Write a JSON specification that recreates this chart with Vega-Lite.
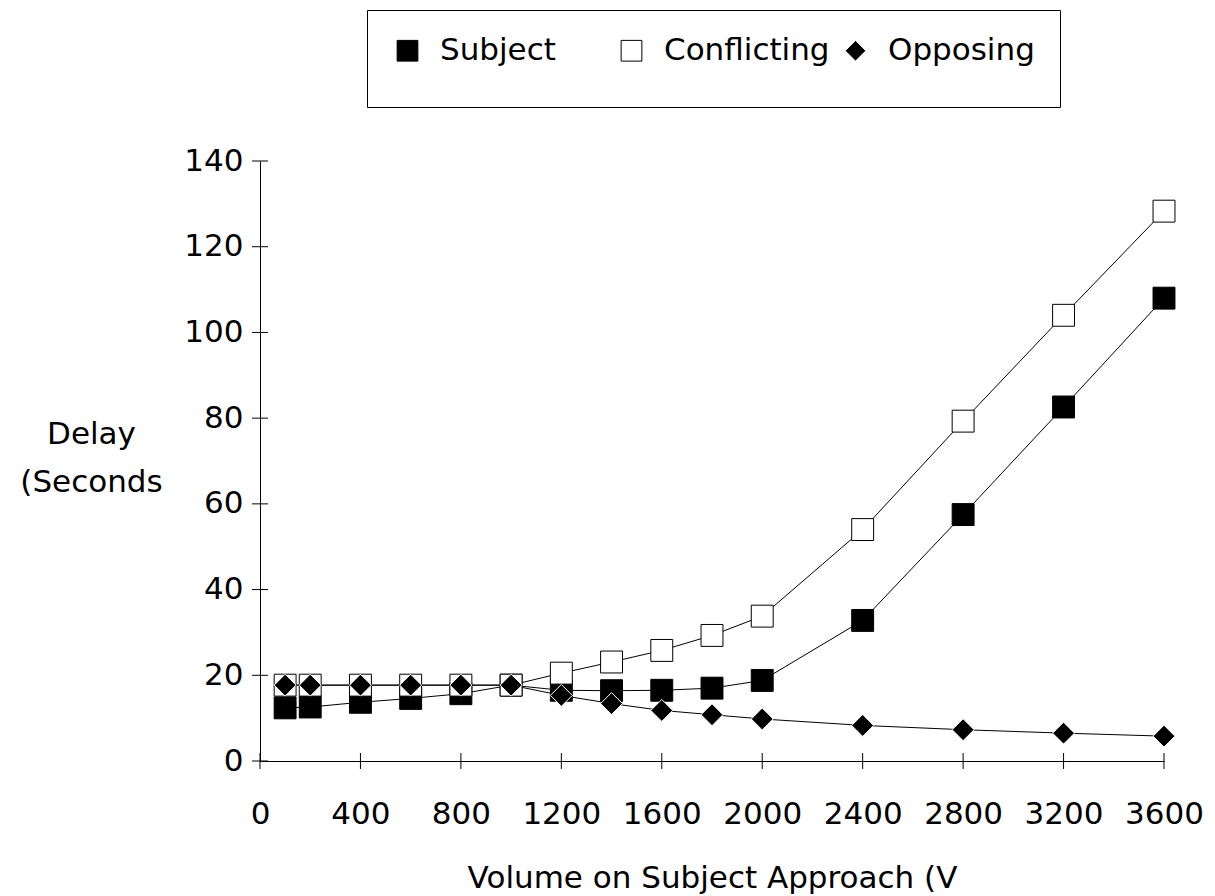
{
  "$schema": "https://vega.github.io/schema/vega-lite/v6.json",
  "width": 904,
  "height": 600,
  "autosize": {"type": "none"},
  "padding": {"left": 260, "top": 161, "right": 51, "bottom": 135},
  "background": "white",
  "config": {
    "view": {"stroke": null},
    "font": "DejaVu Sans",
    "axis": {
      "grid": false,
      "ticks": false,
      "tickSize": 0,
      "domainColor": "black",
      "domainWidth": 1,
      "labelFont": "DejaVu Sans",
      "labelFontSize": 31,
      "labelColor": "black",
      "titleFont": "DejaVu Sans",
      "titleFontSize": 31,
      "titleFontWeight": "normal",
      "titleColor": "black",
      "labelOverlap": false,
      "labelFlush": false
    }
  },
  "datasets": {
    "delay": [
      {"series": "Subject", "volume": 100, "delay": 12.4},
      {"series": "Subject", "volume": 200, "delay": 12.6},
      {"series": "Subject", "volume": 400, "delay": 13.7},
      {"series": "Subject", "volume": 600, "delay": 14.6},
      {"series": "Subject", "volume": 800, "delay": 15.7},
      {"series": "Subject", "volume": 1000, "delay": 17.7},
      {"series": "Subject", "volume": 1200, "delay": 16.5},
      {"series": "Subject", "volume": 1400, "delay": 16.4},
      {"series": "Subject", "volume": 1600, "delay": 16.5},
      {"series": "Subject", "volume": 1800, "delay": 17.0},
      {"series": "Subject", "volume": 2000, "delay": 18.8},
      {"series": "Subject", "volume": 2400, "delay": 32.8},
      {"series": "Subject", "volume": 2800, "delay": 57.5},
      {"series": "Subject", "volume": 3200, "delay": 82.6},
      {"series": "Subject", "volume": 3600, "delay": 108.0},
      {"series": "Conflicting", "volume": 100, "delay": 17.7},
      {"series": "Conflicting", "volume": 200, "delay": 17.7},
      {"series": "Conflicting", "volume": 400, "delay": 17.7},
      {"series": "Conflicting", "volume": 600, "delay": 17.7},
      {"series": "Conflicting", "volume": 800, "delay": 17.7},
      {"series": "Conflicting", "volume": 1000, "delay": 17.7},
      {"series": "Conflicting", "volume": 1200, "delay": 20.5},
      {"series": "Conflicting", "volume": 1400, "delay": 23.1},
      {"series": "Conflicting", "volume": 1600, "delay": 25.8},
      {"series": "Conflicting", "volume": 1800, "delay": 29.3},
      {"series": "Conflicting", "volume": 2000, "delay": 33.8},
      {"series": "Conflicting", "volume": 2400, "delay": 54.0},
      {"series": "Conflicting", "volume": 2800, "delay": 79.3},
      {"series": "Conflicting", "volume": 3200, "delay": 104.0},
      {"series": "Conflicting", "volume": 3600, "delay": 128.3},
      {"series": "Opposing", "volume": 100, "delay": 17.7},
      {"series": "Opposing", "volume": 200, "delay": 17.7},
      {"series": "Opposing", "volume": 400, "delay": 17.7},
      {"series": "Opposing", "volume": 600, "delay": 17.7},
      {"series": "Opposing", "volume": 800, "delay": 17.7},
      {"series": "Opposing", "volume": 1000, "delay": 17.7},
      {"series": "Opposing", "volume": 1200, "delay": 15.3},
      {"series": "Opposing", "volume": 1400, "delay": 13.4},
      {"series": "Opposing", "volume": 1600, "delay": 11.8},
      {"series": "Opposing", "volume": 1800, "delay": 10.8},
      {"series": "Opposing", "volume": 2000, "delay": 9.8},
      {"series": "Opposing", "volume": 2400, "delay": 8.3},
      {"series": "Opposing", "volume": 2800, "delay": 7.3},
      {"series": "Opposing", "volume": 3200, "delay": 6.5},
      {"series": "Opposing", "volume": 3600, "delay": 5.8}
    ],
    "xticks": [
      {"volume": 0}, {"volume": 400}, {"volume": 800}, {"volume": 1200}, {"volume": 1600},
      {"volume": 2000}, {"volume": 2400}, {"volume": 2800}, {"volume": 3200}, {"volume": 3600}
    ],
    "yticks": [
      {"delay": 0}, {"delay": 20}, {"delay": 40}, {"delay": 60},
      {"delay": 80}, {"delay": 100}, {"delay": 120}, {"delay": 140}
    ]
  },
  "layer": [
    {
      "data": {"name": "delay"},
      "mark": {"type": "line", "color": "black", "strokeWidth": 1},
      "encoding": {
        "x": {
          "field": "volume",
          "type": "quantitative",
          "scale": {"domain": [0, 3600], "nice": false, "zero": false},
          "axis": {
            "values": [0, 400, 800, 1200, 1600, 2000, 2400, 2800, 3200, 3600],
            "format": "d",
            "labelPadding": 38,
            "title": "Volume on Subject Approach (V",
            "titleX": 452,
            "titleY": 126,
            "titleAlign": "center",
            "titleBaseline": "alphabetic"
          }
        },
        "y": {
          "field": "delay",
          "type": "quantitative",
          "scale": {"domain": [0, 140], "nice": false},
          "axis": {
            "values": [0, 20, 40, 60, 80, 100, 120, 140],
            "labelPadding": 17,
            "title": ["Delay", "(Seconds"],
            "titleAngle": 0,
            "titleAlign": "center",
            "titleBaseline": "alphabetic",
            "titleLineHeight": 48,
            "titleX": -169,
            "titleY": 282
          }
        },
        "detail": {"field": "series"}
      }
    },
    {
      "data": {"name": "delay"},
      "mark": {"type": "point", "filled": true, "opacity": 1, "size": 480, "strokeWidth": 1},
      "encoding": {
        "x": {"field": "volume", "type": "quantitative"},
        "y": {"field": "delay", "type": "quantitative"},
        "shape": {
          "field": "series",
          "type": "nominal",
          "scale": {"domain": ["Subject", "Conflicting", "Opposing"], "range": ["square", "square", "diamond"]},
          "legend": {
            "title": " ",
            "titleOrient": "bottom",
            "titleFontSize": 10,
            "titlePadding": 6,
            "orient": "none",
            "legendX": 107,
            "legendY": -151,
            "direction": "horizontal",
            "columns": 3,
            "gridAlign": "all",
            "columnPadding": 10,
            "labelOffset": 17,
            "symbolSize": 430,
            "symbolStrokeWidth": 1,
            "padding": 25,
            "strokeColor": "black",
            "labelFont": "DejaVu Sans",
            "labelFontSize": 31,
            "labelColor": "black",
            "labelLimit": 400
          }
        },
        "fill": {
          "field": "series",
          "type": "nominal",
          "scale": {"domain": ["Subject", "Conflicting", "Opposing"], "range": ["black", "white", "black"]}
        },
        "stroke": {
          "field": "series",
          "type": "nominal",
          "scale": {"domain": ["Subject", "Conflicting", "Opposing"], "range": ["black", "black", "white"]}
        }
      }
    },
    {
      "data": {"name": "xticks"},
      "mark": {"type": "tick", "orient": "vertical", "size": 16, "thickness": 1, "color": "black", "opacity": 1},
      "encoding": {
        "x": {"field": "volume", "type": "quantitative"},
        "y": {"datum": 0}
      }
    },
    {
      "data": {"name": "yticks"},
      "mark": {"type": "tick", "orient": "horizontal", "size": 16, "thickness": 1, "color": "black", "opacity": 1},
      "encoding": {
        "x": {"datum": 0},
        "y": {"field": "delay", "type": "quantitative"}
      }
    }
  ]
}
